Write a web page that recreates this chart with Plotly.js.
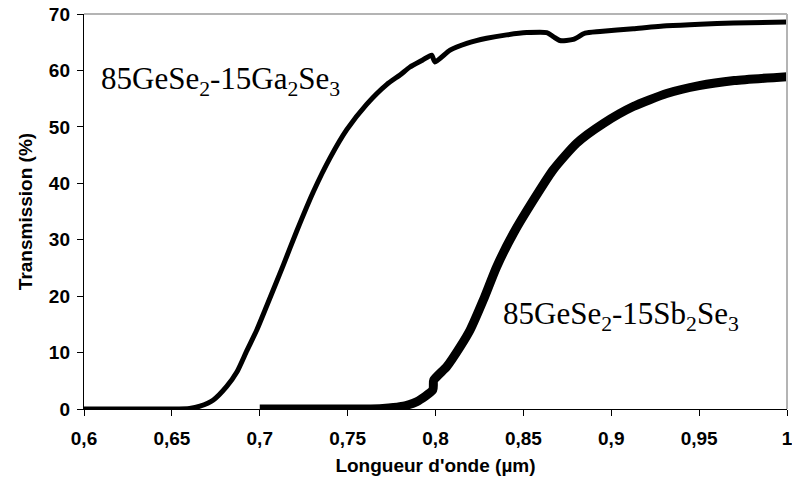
<!DOCTYPE html>
<html>
<head>
<meta charset="utf-8">
<script src="https://cdn.plot.ly/plotly-3.0.1.min.js"></script>
<style>html,body{margin:0;padding:0;background:#fff;}#chart{width:792px;height:482px;}</style>
</head>
<body>
<div id="chart"></div>
<script>
// Wavelength (µm) and transmission (%)
var gaWavelength = [0.6, 0.62, 0.64, 0.65, 0.66, 0.666, 0.6736, 0.6812, 0.6869, 0.6926, 0.6983, 0.704, 0.7134, 0.721, 0.7305, 0.74, 0.7495, 0.7608, 0.7722, 0.7798, 0.7855, 0.7925, 0.7978, 0.7997, 0.8083, 0.8178, 0.8291, 0.8405, 0.8519, 0.8633, 0.867, 0.8708, 0.8784, 0.8851, 0.8936, 0.9125, 0.9315, 0.9505, 0.9695, 1.0];
var gaTransmission = [0, 0, 0, 0, 0.1, 0.5, 1.6, 4.0, 6.5, 10.3, 14.0, 18.3, 25.5, 31.5, 38.5, 44.5, 49.5, 54.0, 57.5, 59.2, 60.6, 61.8, 62.7, 61.5, 63.6, 64.8, 65.7, 66.3, 66.7, 66.7, 66.0, 65.3, 65.5, 66.6, 66.9, 67.4, 67.9, 68.2, 68.4, 68.6];

var sbWavelength = [0.7, 0.72, 0.74, 0.76, 0.77, 0.7798, 0.7893, 0.7985, 0.799, 0.8064, 0.814, 0.8197, 0.8272, 0.8348, 0.8443, 0.8557, 0.867, 0.8803, 0.8955, 0.9125, 0.9315, 0.95, 0.97, 1.0];
var sbTransmission = [0, 0, 0, 0, 0.1, 0.4, 1.3, 3.4, 5.1, 7.5, 11.0, 14.0, 19.3, 25.2, 31.1, 37.0, 42.4, 47.1, 50.6, 53.6, 55.9, 57.3, 58.2, 58.9];

var xTickVals = [0.6, 0.65, 0.7, 0.75, 0.8, 0.85, 0.9, 0.95, 1.0];
var xTickText = ['0,6', '0,65', '0,7', '0,75', '0,8', '0,85', '0,9', '0,95', '1'];
var yTickVals = [0, 10, 20, 30, 40, 50, 60, 70];
var yTickText = ['0', '10', '20', '30', '40', '50', '60', '70'];

var labelGa = '85GeSe<sub>2</sub>-15Ga<sub>2</sub>Se<sub>3</sub>';
var labelSb = '85GeSe<sub>2</sub>-15Sb<sub>2</sub>Se<sub>3</sub>';

function bold(s) { return '<b>' + s + '</b>'; }

var sansFont = {family: 'Liberation Sans, Arial, sans-serif', size: 19, color: '#000'};

var traces = [
  {x: gaWavelength, y: gaTransmission, mode: 'lines', line: {color: '#000', width: 5, shape: 'spline', smoothing: 0.6}, name: labelGa, showlegend: false},
  {x: sbWavelength, y: sbTransmission, mode: 'lines', line: {color: '#000', width: 9, shape: 'spline', smoothing: 0.6}, name: labelSb, showlegend: false}
];

var layout = {
  width: 792, height: 482,
  margin: {l: 84, r: 5, t: 14, b: 73},
  paper_bgcolor: '#fff', plot_bgcolor: '#fff',
  showlegend: false,
  xaxis: {
    range: [0.6, 1.0], tickvals: xTickVals, ticktext: xTickText.map(bold),
    showgrid: false, zeroline: false, showline: true, linecolor: '#000', linewidth: 1.2,
    ticks: 'outside', ticklen: 6, tickcolor: '#000', tickwidth: 1, ticklabelstandoff: 6,
    ticklabeloverflow: 'allow',
    tickfont: sansFont,
    title: {text: bold("Longueur d'onde (µm)"), font: sansFont, standoff: 10}
  },
  yaxis: {
    range: [0, 70], tickvals: yTickVals, ticktext: yTickText.map(bold),
    showgrid: false, zeroline: false, showline: true, linecolor: '#000', linewidth: 1.2,
    ticks: 'outside', ticklen: 6, tickcolor: '#000', tickwidth: 1, ticklabelstandoff: 3,
    ticklabeloverflow: 'allow',
    tickfont: sansFont,
    title: {text: bold('Transmission (%)'), font: sansFont, standoff: 11}
  },
  shapes: [
    {type: 'line', xref: 'paper', yref: 'paper', x0: 0, x1: 1, y0: 1, y1: 1, line: {color: '#b4b4b4', width: 2}},
    {type: 'line', xref: 'paper', yref: 'paper', x0: 1, x1: 1, y0: 0, y1: 1, line: {color: '#b4b4b4', width: 2}}
  ],
  annotations: [
    {text: labelGa, xref: 'paper', yref: 'paper', x: 0.021, y: 0.83, xanchor: 'left', yanchor: 'middle', showarrow: false,
     font: {family: 'Liberation Serif, Times New Roman, serif', size: 31, color: '#000'}},
    {text: labelSb, xref: 'paper', yref: 'paper', x: 0.593, y: 0.235, xanchor: 'left', yanchor: 'middle', showarrow: false,
     font: {family: 'Liberation Serif, Times New Roman, serif', size: 31, color: '#000'}}
  ]
};

Plotly.newPlot('chart', traces, layout, {staticPlot: true, displayModeBar: false});
</script>
</body>
</html>
